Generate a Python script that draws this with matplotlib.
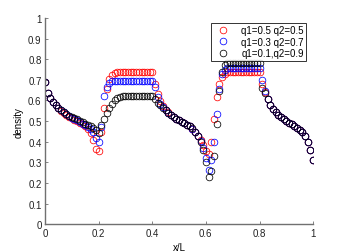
import numpy as np
import matplotlib
matplotlib.use("Agg")
import matplotlib.pyplot as plt

plt.rcParams['font.family'] = ['Liberation Sans', 'DejaVu Sans']

x_pos = [i / 100 for i in range(101)]

# series: q1=0.5 q2=0.5 (red)
red_seg1 = [.688, .634, .61, .592, .576, .562, .551, .54, .53, .521, .513, .506, .50, .492, .484, .474, .463, .44, .41, .365, .355]
red_seg2 = [.445, .565, .655, .705, .725, .733] + [.737] * 14
red_seg3 = [.68, .63, .595, .572, .556, .542, .53, .52, .511, .503, .497, .49, .482, .474, .462, .447, .43, .41, .385, .355]
red_seg4 = [.34, .40, .51, .615, .68, .712, .728] + [.737] * 13
red_seg5 = [.68, .64, .605, .578, .56, .543, .53, .52, .51, .502, .493, .485, .477, .468, .458, .447, .43, .40, .36, .31]

# series: q1=0.3 q2=0.7 (blue)
blue_seg1 = [.688, .634, .61, .593, .577, .564, .553, .543, .533, .525, .517, .51, .504, .496, .488, .48, .47, .46, .445, .42, .40]
blue_seg2 = [.47, .62, .665, .685, .692] + [.695] * 15
blue_seg3 = [.663, .615, .585, .568, .554, .541, .529, .519, .51, .503, .497, .49, .482, .475, .463, .447, .428, .405, .37, .32]
blue_seg4 = [.262, .31, .40, .535, .655, .73, .75] + [.757] * 13
blue_seg5 = [.70, .645, .605, .578, .56, .543, .53, .52, .51, .502, .493, .485, .477, .468, .458, .447, .43, .40, .36, .31]

# series: q1=0.1,q2=0.9 (black)
black_seg1 = [.688, .634, .61, .594, .578, .565, .555, .545, .535, .527, .52, .514, .508, .50, .494, .488, .482, .475, .465, .455, .442]
black_seg2 = [.48, .51, .54, .565, .585, .60, .61, .617] + [.62] * 12
black_seg3 = [.607, .59, .578, .565, .553, .54, .528, .518, .51, .503, .497, .49, .482, .475, .464, .448, .428, .40, .36, .30]
black_seg4 = [.23, .26, .33, .485, .647, .74, .77] + [.78] * 13
black_seg5 = [.66, .635, .605, .578, .56, .543, .53, .52, .51, .502, .493, .485, .477, .468, .458, .447, .43, .40, .36, .31]

labels = ['q1=0.5 q2=0.5', 'q1=0.3 q2=0.7', 'q1=0.1,q2=0.9']
colors = ['#ff0000', '#0000ff', '#000000']

red = red_seg1 + red_seg2 + red_seg3 + red_seg4 + red_seg5
blue = blue_seg1 + blue_seg2 + blue_seg3 + blue_seg4 + blue_seg5
black = black_seg1 + black_seg2 + black_seg3 + black_seg4 + black_seg5

fig = plt.figure(figsize=(3.46, 2.53), dpi=100)
ax = fig.add_axes([0.13, 0.11, 0.775, 0.815])

for ys, c, lab in zip([red, blue, black], colors, labels):
    ax.plot(x_pos[:len(ys)], ys, linestyle='none', marker='o', markersize=4.8,
            markerfacecolor='none', markeredgecolor=c, markeredgewidth=0.55, label=lab)

ax.set_xlim(0, 1)
ax.set_ylim(0, 1)
ax.set_xticks([0, 0.2, 0.4, 0.6, 0.8, 1])
ax.set_xticklabels(['0', '0.2', '0.4', '0.6', '0.8', '1'])
ax.set_yticks(np.arange(0, 1.01, 0.1))
ax.set_yticklabels(['0', '0.1', '0.2', '0.3', '0.4', '0.5', '0.6', '0.7', '0.8', '0.9', '1'])
for s in ['top', 'right']:
    ax.spines[s].set_visible(False)
for s in ['left', 'bottom']:
    ax.spines[s].set_color('#707070')
    ax.spines[s].set_linewidth(1.0)
ax.tick_params(direction='in', length=2.5, width=0.6, colors='#707070', labelcolor='#222222',
               labelsize=7, pad=2.5)
ax.set_xlabel('x/L', fontsize=7, labelpad=3)
ax.set_ylabel('density', fontsize=7, labelpad=3)

leg = ax.legend(loc='upper right', bbox_to_anchor=(0.974, 0.976), fontsize=7, frameon=True,
                fancybox=False, borderpad=0.25, handletextpad=0.9, labelspacing=0.15,
                handlelength=2.0, borderaxespad=0)
leg.get_frame().set_edgecolor('black')
leg.get_frame().set_linewidth(0.7)

fig.savefig('out.png', dpi=100)
